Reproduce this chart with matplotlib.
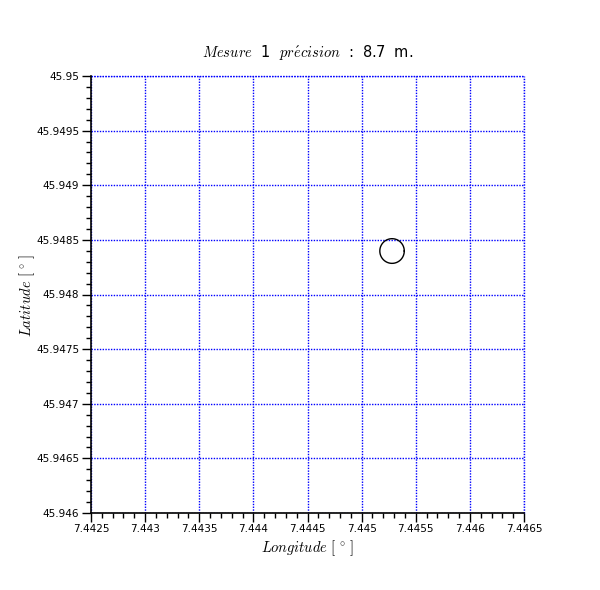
import matplotlib
matplotlib.use('Agg')
import matplotlib.pyplot as plt
import numpy as np

plt.rcParams['mathtext.fontset'] = 'cm'

# measurement data
mesure_num = 1
precision_m = 8.7
lon_center = 7.445281
lat_center = 45.948398
radius_deg = 0.000113

# axis bounds and ticks
xlim = (7.4425, 7.4465)
ylim = (45.946, 45.95)
xticks = [7.4425, 7.443, 7.4435, 7.444, 7.4445, 7.445, 7.4455, 7.446, 7.4465]
xtick_labels = ['7.4425', '7.443', '7.4435', '7.444', '7.4445', '7.445', '7.4455', '7.446', '7.4465']
yticks = [45.946, 45.9465, 45.947, 45.9475, 45.948, 45.9485, 45.949, 45.9495, 45.95]
ytick_labels = ['45.946', '45.9465', '45.947', '45.9475', '45.948', '45.9485', '45.949', '45.9495', '45.95']

fig = plt.figure(figsize=(6, 5.9), dpi=100)
ax = fig.add_axes([91/600, 1 - 513/590, 433/600, 437/590])

# circle of precision
t = np.linspace(0, 2*np.pi, 200)
ax.plot(lon_center + radius_deg*np.cos(t), lat_center + radius_deg*np.sin(t),
        color='black', lw=1.0, zorder=3)

ax.set_xlim(*xlim)
ax.set_ylim(*ylim)
ax.set_xticks(xticks)
ax.set_xticklabels(xtick_labels)
ax.set_yticks(yticks)
ax.set_yticklabels(ytick_labels)
ax.set_xticks(np.linspace(xlim[0], xlim[1], 41), minor=True)
ax.set_yticks(np.linspace(ylim[0], ylim[1], 41), minor=True)

ax.tick_params(which='major', direction='out', length=6.5, width=1, labelsize=7.5, pad=2)
ax.tick_params(axis='x', which='major', pad=1.5)
ax.tick_params(which='minor', direction='out', length=3.5, width=1)

# grid in blue dotted, top/right borders are grid lines too
ax.grid(True, which='major', color='blue', linestyle=(0, (1, 1)), linewidth=1)
ax.set_axisbelow(True)
for s in ['top', 'right']:
    ax.spines[s].set_visible(False)
for s in ['left', 'bottom']:
    ax.spines[s].set_linewidth(1.2)
ax.axhline(ylim[1], color='blue', linestyle=(0, (1, 1)), lw=1, clip_on=False)
ax.axvline(xlim[1], color='blue', linestyle=(0, (1, 1)), lw=1, clip_on=False)

# labels
fig.text(308/600, 1 - 53/590,
         r'$\mathit{Mesure}$  %d  $\mathit{pr\acute{e}cision}$  :  %.1f  m.' % (mesure_num, precision_m),
         ha='center', va='center', fontsize=10.5)
fig.text(307/600, 1 - 548/590, r'$\mathit{Longitude}\ [\,^\circ\,]$',
         ha='center', va='center', fontsize=10.5)
fig.text(27/600, 1 - 295/590, r'$\mathit{Latitude}\ [\,^\circ\,]$',
         ha='center', va='center', fontsize=10.5, rotation=90)

fig.savefig('out.png', dpi=100)
